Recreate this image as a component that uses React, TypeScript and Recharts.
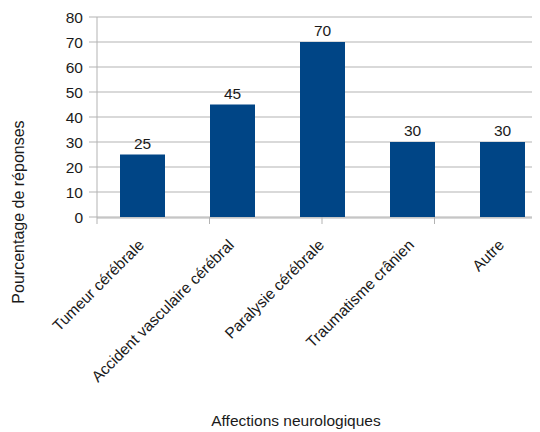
import React from 'react';
import { BarChart, Bar, XAxis, YAxis, CartesianGrid, LabelList, Label } from 'recharts';

const categories = ['Tumeur cérébrale', 'Accident vasculaire cérébral', 'Paralysie cérébrale', 'Traumatisme crânien', 'Autre'];
const values = [25, 45, 70, 30, 30];
const yTicks = [0, 10, 20, 30, 40, 50, 60, 70, 80];
const boundaryTicks = [0, 1, 2, 3, 4, 5];

const data = categories.map((name, i) => ({ name, value: values[i] }));

const FONT = '"Liberation Sans", Arial, sans-serif';
const GRID = '#b3b3b3';
const TEXT = '#1a1a1a';

const CategoryTick = (props: any) => {
  const { x, y, payload } = props;
  const tx = x + 3;
  const ty = y + 28;
  return (
    <text x={tx} y={ty} transform={`rotate(-45, ${tx}, ${ty})`} textAnchor="end" fill={TEXT} fontSize={15.5} fontFamily={FONT}>
      {payload.value}
    </text>
  );
};

const NoTick = () => <g />;

export default function App() {
  return (
    <div style={{ margin: '-8px 0 0 -8px', width: 540, height: 432, overflow: 'hidden', position: 'relative', background: '#fff' }}>
      <BarChart
        width={560}
        height={432}
        data={data}
        margin={{ top: 17, right: 13, left: 0, bottom: 0 }}
        style={{ fontFamily: FONT }}
      >
        <CartesianGrid vertical={false} stroke={GRID} strokeWidth={1} xAxisId={1} />
        <XAxis
          xAxisId={0}
          type="number"
          domain={[0, 5]}
          ticks={boundaryTicks}
          tick={<NoTick />}
          axisLine={false}
          tickLine={{ stroke: GRID }}
          tickSize={7}
          height={1}
        />
        <XAxis
          xAxisId={1}
          dataKey="name"
          interval={0}
          height={214}
          axisLine={{ stroke: GRID }}
          tickLine={false}
          tickSize={0}
          tickMargin={0}
          tick={<CategoryTick />}
        >
          <Label
            content={() => (
              <text x={296} y={426} textAnchor="middle" fill={TEXT} fontSize={15.5} fontFamily={FONT}>
                Affections neurologiques
              </text>
            )}
          />
        </XAxis>
        <YAxis
          domain={[0, 80]}
          ticks={yTicks}
          width={97}
          axisLine={{ stroke: GRID }}
          tickLine={{ stroke: GRID }}
          tickSize={8}
          tickMargin={6}
          tick={{ fill: TEXT, fontSize: 15.5, fontFamily: FONT }}
        >
          <Label
            content={() => (
              <text x={24} y={212} transform="rotate(-90, 24, 212)" textAnchor="middle" fill={TEXT} fontSize={16} fontFamily={FONT}>
                Pourcentage de réponses
              </text>
            )}
          />
        </YAxis>
        <Bar dataKey="value" xAxisId={1} fill="#004586" barSize={45} isAnimationActive={false}>
          <LabelList dataKey="value" position="top" offset={6} fill={TEXT} fontSize={15.5} fontFamily={FONT} />
        </Bar>
      </BarChart>
    </div>
  );
}
